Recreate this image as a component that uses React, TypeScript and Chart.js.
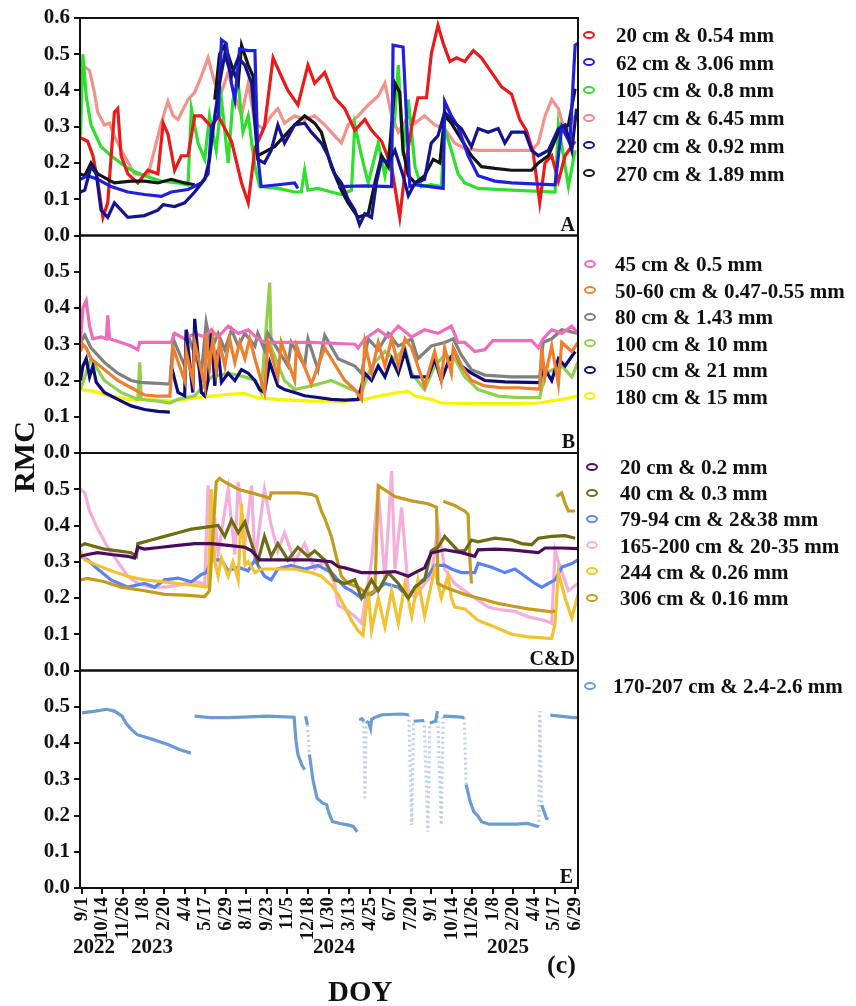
import { useEffect, useRef } from "react";
import { Chart, registerables } from "chart.js";

Chart.register(...registerables);

type Pt = [number, number | null];

// x = days since 2022-09-01
const tickDays = [0, 43, 86, 129, 172, 215, 258, 301, 344, 387, 430, 473, 516, 559, 602, 645, 688, 731, 774, 817, 860, 903, 946, 989, 1032];
const tickLabels = ["9/1", "10/14", "11/26", "1/8", "2/20", "4/4", "5/17", "6/29", "8/11", "9/23", "11/5", "12/18", "1/30", "3/13", "4/25", "6/7", "7/20", "9/1", "10/14", "11/26", "1/8", "2/20", "4/4", "5/17", "6/29"];
const yearLabels = ["2022", "2023", "2024", "2025"];
const yTicks = [0, 0.1, 0.2, 0.3, 0.4, 0.5, 0.6];

// ---------- Panel A ----------
const a20: Pt[] = [[-3,0.27],[12,0.26],[23,0.22],[33,0.15],[44,0.05],[54,0.09],[68,0.34],[75,0.35],[82,0.22],[96,0.17],[117,0.145],[138,0.18],[159,0.17],[170,0.31],[180,0.28],[194,0.18],[208,0.22],[222,0.22],[236,0.33],[250,0.33],[271,0.30],[285,0.33],[313,0.26],[334,0.145],[348,0.09],[362,0.24],[382,0.30],[400,0.49],[417,0.44],[431,0.40],[452,0.36],[473,0.47],[487,0.42],[508,0.45],[529,0.38],[550,0.35],[571,0.29],[592,0.32],[606,0.29],[627,0.26],[648,0.19],[665,0.05],[679,0.21],[690,0.30],[703,0.38],[721,0.38],[731,0.50],[745,0.58],[756,0.53],[770,0.48],[784,0.49],[801,0.48],[819,0.51],[836,0.49],[857,0.45],[878,0.41],[899,0.39],[916,0.32],[930,0.29],[944,0.23],[958,0.09],[969,0.20],[983,0.22],[997,0.15],[1011,0.22],[1032,0.26]];
const a62: Pt[] = [[-3,0.155],[12,0.165],[33,0.155],[61,0.135],[96,0.12],[131,0.113],[166,0.108],[187,0.12],[222,0.127],[250,0.145],[264,0.17],[271,0.30],[285,0.33],[292,0.54],[302,0.53],[313,0.42],[320,0.375],[330,0.515],[348,0.51],[362,0.51],[368,0.22],[375,0.135],[410,0.14],[445,0.145],[452,0.13],[460,null],[536,0.135],[592,0.137],[648,0.135],[651,0.525],[672,0.52],[679,0.33],[686,0.135],[697,0.14],[756,0.13],[759,0.37],[773,0.33],[787,0.30],[808,0.22],[829,0.165],[864,0.15],[899,0.145],[990,0.14],[1004,0.30],[1021,0.255],[1032,0.525],[1038,0.53]];
const a105: Pt[] = [[-3,0.275],[2,0.50],[9,0.385],[19,0.305],[40,0.245],[61,0.22],[96,0.185],[131,0.165],[166,0.15],[201,0.145],[222,0.14],[229,0.35],[243,0.255],[257,0.21],[267,0.33],[281,0.235],[292,0.375],[306,0.20],[316,0.375],[327,0.42],[337,0.285],[348,0.33],[362,0.19],[372,0.135],[410,0.13],[445,0.12],[459,0.12],[466,0.18],[473,0.125],[494,0.13],[522,0.12],[543,0.113],[564,0.125],[571,0.305],[585,0.22],[599,0.145],[620,0.255],[634,0.165],[655,0.33],[662,0.47],[672,0.22],[683,0.375],[697,0.19],[710,0.135],[731,0.14],[752,0.135],[759,0.295],[773,0.235],[787,0.17],[801,0.145],[829,0.13],[899,0.125],[990,0.12],[997,0.305],[1018,0.135],[1032,0.235]];
const a147: Pt[] = [[-3,0.375],[2,0.47],[16,0.455],[26,0.395],[33,0.34],[47,0.305],[58,0.31],[68,0.275],[82,0.235],[93,0.21],[110,0.17],[138,0.165],[166,0.31],[180,0.37],[191,0.33],[201,0.32],[222,0.375],[236,0.395],[250,0.44],[264,0.49],[278,0.42],[292,0.395],[306,0.45],[320,0.385],[334,0.33],[348,0.42],[362,0.31],[379,0.295],[396,0.33],[410,0.35],[424,0.31],[445,0.33],[466,0.32],[487,0.33],[508,0.305],[529,0.275],[543,0.255],[557,0.305],[578,0.33],[599,0.36],[620,0.385],[634,0.42],[648,0.33],[662,0.285],[683,0.33],[697,0.31],[717,0.33],[738,0.305],[759,0.295],[780,0.255],[801,0.24],[829,0.235],[899,0.235],[941,0.235],[955,0.255],[969,0.33],[983,0.375],[997,0.35],[1011,0.285],[1032,0.33]];
const a220: Pt[] = [[-3,0.12],[6,0.125],[19,0.19],[30,0.17],[40,0.07],[54,0.05],[68,0.09],[82,0.07],[96,0.05],[131,0.055],[159,0.07],[170,0.085],[194,0.08],[215,0.09],[236,0.12],[257,0.155],[267,0.21],[278,0.33],[288,0.42],[299,0.50],[313,0.44],[327,0.49],[341,0.47],[355,0.42],[368,0.21],[382,0.20],[396,0.235],[410,0.305],[424,0.255],[445,0.305],[466,0.31],[480,0.285],[501,0.255],[515,0.22],[529,0.17],[543,0.145],[557,0.10],[571,0.07],[581,0.03],[592,0.06],[606,0.05],[616,0.145],[627,0.21],[641,0.20],[655,0.235],[672,0.165],[683,0.11],[697,0.145],[717,0.155],[731,0.255],[745,0.275],[759,0.34],[780,0.31],[794,0.295],[815,0.245],[829,0.295],[850,0.285],[871,0.295],[885,0.255],[899,0.285],[927,0.285],[941,0.235],[955,0.22],[976,0.235],[997,0.295],[1011,0.305],[1025,0.235],[1035,0.35]];
const a270: Pt[] = [[-3,0.17],[6,0.165],[19,0.20],[33,0.17],[54,0.155],[68,0.145],[103,0.15],[131,0.15],[159,0.145],[187,0.155],[215,0.145],[236,0.14],[250,null],[278,0.375],[288,0.50],[299,0.525],[313,0.47],[327,0.42],[334,0.525],[348,0.47],[358,0.44],[368,0.22],[382,0.23],[403,0.245],[424,0.275],[445,0.305],[466,0.33],[487,0.31],[501,0.285],[522,0.19],[543,0.125],[557,0.09],[578,0.05],[599,0.06],[613,0.145],[627,0.22],[641,0.19],[655,0.42],[665,0.395],[672,0.235],[683,0.165],[697,0.145],[717,0.165],[735,0.21],[749,0.20],[759,0.33],[773,0.31],[794,0.265],[815,0.22],[836,0.19],[864,0.185],[899,0.18],[941,0.18],[955,0.20],[976,0.22],[997,0.285],[1018,0.305],[1032,0.405]];

// ---------- Panel B ----------
const b45: Pt[] = [[-3,0.305],[2,0.40],[9,0.42],[16,0.35],[23,0.315],[40,0.32],[51,0.315],[54,0.38],[58,0.315],[82,0.305],[103,0.295],[117,0.285],[121,0.305],[187,0.305],[194,0.33],[215,0.315],[236,0.33],[257,0.32],[271,0.34],[285,0.32],[306,0.35],[327,0.33],[348,0.34],[368,0.315],[382,0.305],[480,0.305],[571,0.30],[578,0.29],[592,0.315],[620,0.34],[641,0.32],[662,0.35],[690,0.32],[717,0.34],[745,0.33],[773,0.35],[787,0.305],[801,0.305],[822,0.28],[843,0.285],[860,0.31],[941,0.31],[955,0.29],[965,0.315],[983,0.34],[1004,0.33],[1025,0.35],[1038,0.33]];
const b50: Pt[] = [[-3,0.28],[2,0.30],[9,0.29],[19,0.26],[47,0.23],[75,0.20],[103,0.18],[131,0.16],[159,0.157],[184,0.157],[191,0.29],[215,0.20],[218,0.28],[232,0.20],[236,0.305],[257,0.185],[260,0.33],[267,0.24],[274,0.315],[281,0.23],[288,0.305],[299,0.24],[309,0.315],[320,0.25],[330,0.305],[341,0.26],[351,0.315],[362,0.26],[382,0.167],[389,0.305],[410,0.21],[417,0.305],[445,0.20],[449,0.295],[480,0.19],[508,0.29],[550,0.20],[571,0.175],[585,0.148],[592,0.305],[606,0.22],[620,0.305],[634,0.24],[648,0.315],[662,0.24],[676,0.315],[690,0.29],[717,0.185],[738,0.28],[752,0.20],[759,0.29],[773,0.22],[777,0.29],[794,0.24],[815,0.20],[843,0.185],[878,0.18],[913,0.18],[958,0.176],[962,0.29],[969,0.21],[983,0.295],[997,0.19],[1004,0.305],[1025,0.28],[1038,0.305]];
const b80: Pt[] = [[-3,0.305],[6,0.325],[19,0.29],[47,0.25],[75,0.22],[103,0.20],[121,0.195],[184,0.19],[191,0.315],[215,0.24],[222,0.325],[250,0.22],[260,0.36],[271,0.285],[285,0.33],[299,0.285],[313,0.34],[327,0.295],[341,0.33],[362,0.295],[368,0.33],[382,0.285],[389,0.33],[431,0.24],[438,0.305],[466,0.24],[473,0.315],[494,0.23],[508,0.325],[536,0.26],[571,0.24],[585,0.22],[599,0.315],[620,0.285],[641,0.33],[662,0.295],[690,0.315],[703,0.26],[731,0.295],[759,0.305],[777,0.315],[794,0.27],[815,0.23],[843,0.215],[899,0.21],[958,0.21],[965,0.305],[983,0.315],[1004,0.34],[1038,0.33]];
const b100: Pt[] = [[-3,0.175],[19,0.26],[47,0.20],[82,0.167],[117,0.148],[121,0.25],[124,0.148],[159,0.143],[184,0.138],[201,0.148],[236,0.158],[271,0.21],[306,0.22],[341,0.21],[362,0.20],[375,0.167],[393,0.47],[396,0.29],[424,0.20],[445,0.175],[480,0.185],[522,0.20],[564,0.175],[585,0.167],[606,0.24],[634,0.28],[655,0.26],[676,0.29],[690,0.22],[717,0.175],[738,0.24],[759,0.27],[780,0.26],[801,0.21],[829,0.175],[871,0.157],[913,0.153],[958,0.153],[969,0.22],[1004,0.24],[1025,0.21],[1038,0.25]];
const b150: Pt[] = [[-3,0.20],[2,0.24],[9,0.26],[16,0.21],[23,0.24],[30,0.195],[47,0.167],[75,0.148],[103,0.13],[131,0.12],[159,0.115],[184,0.113],[186,null],[187,0.24],[201,0.167],[215,0.158],[218,0.34],[232,0.167],[236,0.37],[250,0.167],[257,0.158],[264,0.20],[271,0.33],[278,0.185],[285,0.285],[292,0.195],[306,0.22],[320,0.20],[334,0.23],[348,0.22],[362,0.20],[372,0.175],[382,0.167],[393,0.25],[410,0.185],[424,0.175],[445,0.167],[466,0.158],[494,0.153],[522,0.148],[550,0.146],[578,0.148],[592,0.22],[606,0.20],[620,0.24],[634,0.21],[648,0.26],[662,0.22],[676,0.28],[690,0.21],[724,0.21],[738,0.26],[752,0.20],[766,0.25],[780,0.28],[794,0.24],[815,0.22],[843,0.20],[885,0.196],[958,0.194],[965,0.24],[983,0.20],[997,0.26],[1011,0.24],[1032,0.28]];
const b180: Pt[] = [[-3,0.175],[26,0.17],[61,0.157],[96,0.148],[131,0.148],[187,0.143],[236,0.152],[271,0.157],[306,0.162],[341,0.164],[368,0.152],[410,0.148],[480,0.143],[550,0.143],[592,0.148],[620,0.157],[662,0.167],[683,0.17],[697,0.157],[731,0.148],[752,0.138],[829,0.136],[899,0.136],[955,0.138],[1004,0.148],[1038,0.157]];

// ---------- Panel C&D ----------
const c20: Pt[] = [[-3,0.315],[12,0.32],[33,0.325],[61,0.32],[96,0.315],[110,0.31],[117,0.34],[131,0.335],[166,0.34],[201,0.345],[236,0.35],[271,0.35],[306,0.345],[341,0.34],[355,0.33],[372,0.305],[410,0.305],[480,0.305],[522,0.30],[536,0.287],[550,0.283],[585,0.27],[620,0.27],[655,0.273],[683,0.26],[697,0.27],[717,0.283],[731,0.324],[759,0.333],[794,0.325],[822,0.315],[829,0.333],[864,0.335],[899,0.333],[934,0.328],[955,0.325],[969,0.338],[1004,0.338],[1038,0.336]];
const c40: Pt[] = [[-3,0.343],[6,0.35],[19,0.345],[47,0.335],[75,0.33],[103,0.325],[114,0.315],[117,0.35],[145,0.36],[173,0.37],[201,0.38],[229,0.39],[257,0.395],[285,0.40],[299,0.37],[313,0.415],[327,0.38],[341,0.41],[355,0.35],[368,0.30],[382,0.37],[396,0.315],[410,0.35],[431,0.305],[452,0.34],[473,0.315],[487,0.33],[508,0.305],[529,0.25],[550,0.24],[571,0.25],[585,0.20],[606,0.25],[620,0.22],[641,0.27],[662,0.24],[683,0.20],[697,0.23],[717,0.25],[731,0.33],[745,0.34],[759,0.37],[773,0.35],[787,0.33],[801,0.33],[815,0.36],[829,0.355],[864,0.365],[899,0.36],[920,0.35],[941,0.347],[955,0.365],[983,0.37],[1011,0.372],[1032,0.365]];
const c79: Pt[] = [[-3,0.315],[12,0.305],[33,0.28],[61,0.25],[96,0.23],[131,0.24],[152,0.23],[173,0.25],[201,0.255],[229,0.245],[250,0.265],[260,0.27],[271,0.305],[292,0.305],[306,0.275],[327,0.285],[348,0.275],[362,0.305],[382,0.26],[396,0.25],[410,0.28],[438,0.29],[466,0.28],[494,0.29],[522,0.27],[536,0.25],[550,0.23],[564,0.22],[585,0.20],[606,0.21],[634,0.24],[662,0.23],[683,0.20],[703,0.24],[724,0.26],[738,0.29],[759,0.29],[773,0.28],[794,0.27],[822,0.27],[829,0.296],[857,0.285],[885,0.27],[906,0.28],[927,0.26],[948,0.24],[962,0.23],[976,0.24],[990,0.25],[1004,0.285],[1025,0.295],[1038,0.305]];
const c165: Pt[] = [[-3,0.50],[6,0.49],[16,0.44],[33,0.39],[54,0.34],[75,0.30],[96,0.26],[117,0.24],[145,0.23],[173,0.23],[201,0.235],[236,0.245],[257,0.24],[264,0.51],[271,0.33],[278,0.42],[285,0.32],[306,0.50],[320,0.32],[327,0.52],[341,0.35],[355,0.51],[362,0.30],[382,0.50],[396,0.40],[410,0.33],[424,0.38],[445,0.30],[466,0.35],[487,0.28],[508,0.30],[529,0.24],[536,0.18],[550,0.17],[571,0.15],[585,0.13],[606,0.30],[620,0.50],[634,0.25],[648,0.55],[655,0.28],[669,0.45],[683,0.22],[697,0.20],[717,0.24],[731,0.26],[745,0.40],[759,0.28],[780,0.24],[801,0.22],[822,0.20],[850,0.175],[878,0.167],[906,0.163],[934,0.148],[969,0.138],[983,0.13],[990,0.33],[997,0.30],[1018,0.22],[1038,0.24]];
const c244: Pt[] = [[-3,0.33],[6,0.305],[33,0.29],[61,0.275],[96,0.26],[131,0.25],[166,0.245],[201,0.24],[236,0.235],[264,0.23],[271,0.50],[278,0.30],[285,0.26],[292,0.31],[306,0.26],[316,0.30],[327,0.25],[334,0.46],[341,0.29],[348,0.30],[362,0.27],[375,0.28],[410,0.28],[445,0.28],[480,0.27],[501,0.26],[522,0.235],[536,0.21],[550,0.175],[564,0.138],[578,0.11],[588,0.097],[599,0.22],[606,0.11],[620,0.20],[634,0.12],[648,0.22],[662,0.13],[676,0.24],[690,0.15],[703,0.25],[717,0.15],[738,0.28],[752,0.20],[766,0.26],[773,0.20],[780,0.175],[801,0.17],[829,0.138],[864,0.12],[899,0.10],[934,0.093],[983,0.088],[990,0.13],[997,0.27],[1011,0.20],[1025,0.145],[1038,0.21]];
const c306: Pt[] = [[-3,0.25],[12,0.254],[47,0.245],[82,0.23],[131,0.22],[173,0.21],[215,0.208],[257,0.204],[267,0.22],[281,0.52],[288,0.53],[299,0.52],[327,0.50],[355,0.49],[382,0.48],[393,0.475],[396,0.49],[424,0.49],[452,0.49],[480,0.486],[491,0.48],[501,0.44],[508,0.42],[522,0.37],[532,0.315],[543,0.26],[557,0.24],[578,0.23],[599,0.21],[613,0.22],[620,0.51],[655,0.48],[690,0.468],[724,0.46],[742,0.45],[745,0.24],[759,0.23],[780,0.22],[801,0.21],[815,0.205],[843,0.195],[871,0.185],[899,0.178],[934,0.17],[983,0.162],[990,0.165],[992,null],[993,0.48],[1004,0.49],[1011,0.46],[1018,0.44],[1032,0.44]];
const c306b: Pt[] = [[756,0.467],[780,0.455],[801,0.44],[808,0.43],[812,0.30],[815,0.24]];

// ---------- Panel E ----------
const e170: Pt[] = [[0,0.483],[28,0.488],[52,0.493],[68,0.488],[84,0.474],[92,0.455],[104,0.437],[116,0.423],[148,0.41],[180,0.396],[204,0.382],[228,0.372],[232,null],[236,0.474],[268,0.47],[308,0.47],[388,0.474],[444,0.471],[448,0.405],[452,0.368],[460,0.34],[466,0.326],[467,null],[468,0.474],[472,0.45],[476,0.368],[484,0.294],[492,0.248],[504,0.234],[512,0.23],[516,0.21],[524,0.183],[540,0.178],[556,0.174],[568,0.17],[576,0.155],[578,null],[580,0.465],[586,0.467],[590,0.46],[592,0.243],[595,0.46],[600,0.456],[604,0.44],[606,0.465],[612,0.47],[628,0.478],[668,0.48],[684,0.478],[690,0.174],[694,0.46],[716,0.462],[724,0.155],[728,0.455],[740,0.46],[744,0.488],[752,0.174],[756,0.474],[788,0.472],[800,0.47],[804,0.285],[812,0.24],[820,0.21],[828,0.2],[836,0.183],[852,0.176],[908,0.176],[932,0.178],[956,0.169],[958,0.488],[962,0.229],[972,0.192],[976,0.19],[977,null],[980,0.477],[1028,0.47],[1038,0.47]];

const FONT = '"Liberation Serif", "Times New Roman", serif';

type Series = { label: string; color: string; data: Pt[]; axis: string; order: number; width?: number; fadeDrops?: boolean };

const series: Series[] = [
  { label: "220 cm & 0.92 mm", color: "#14148e", data: a220, axis: "yA", order: 0 },
  { label: "62 cm & 3.06 mm", color: "#1f1fe0", data: a62, axis: "yA", order: 1 },
  { label: "270 cm & 1.89 mm", color: "#151515", data: a270, axis: "yA", order: 2 },
  { label: "20 cm & 0.54 mm", color: "#ea1a1a", data: a20, axis: "yA", order: 3 },
  { label: "105 cm & 0.8 mm", color: "#2ee02e", data: a105, axis: "yA", order: 4 },
  { label: "147 cm & 6.45 mm", color: "rgba(238,128,118,0.85)", data: a147, axis: "yA", order: 5 },

  { label: "50-60 cm & 0.47-0.55 mm", color: "#ee7f2e", data: b50, axis: "yB", order: 6 },
  { label: "150 cm & 21 mm", color: "#0c0c7a", data: b150, axis: "yB", order: 7 },
  { label: "45 cm & 0.5 mm", color: "#ef6cbb", data: b45, axis: "yB", order: 8 },
  { label: "80 cm & 1.43 mm", color: "#808080", data: b80, axis: "yB", order: 9 },
  { label: "100 cm & 10 mm", color: "#90d04e", data: b100, axis: "yB", order: 10 },
  { label: "180 cm & 15 mm", color: "#f5f500", data: b180, axis: "yB", order: 11 },

  { label: "20 cm & 0.2 mm", color: "#4c0c5e", data: c20, axis: "yC", order: 12 },
  { label: "40 cm & 0.3 mm", color: "#6e6c14", data: c40, axis: "yC", order: 13 },
  { label: "306 cm & 0.16 mm", color: "#c49b1e", data: c306, axis: "yC", order: 14 },
  { label: "306b", color: "#c49b1e", data: c306b, axis: "yC", order: 14 },
  { label: "244 cm & 0.26 mm", color: "#f2c233", data: c244, axis: "yC", order: 15 },
  { label: "79-94 cm & 2&38 mm", color: "#5b82f0", data: c79, axis: "yC", order: 16 },
  { label: "165-200 cm & 20-35 mm", color: "rgba(244,165,214,0.9)", data: c165, axis: "yC", order: 17 },

  { label: "170-207 cm & 2.4-2.6 mm", color: "#6b9bd2", data: e170, axis: "yE", order: 18, fadeDrops: true },
];

const colorOf = (label: string) => series.find((s) => s.label === label)!.color;

const legends: { items: string[]; top: number; step: number; markX: number; textX: number }[] = [
  { items: ["20 cm & 0.54 mm", "62 cm & 3.06 mm", "105 cm & 0.8 mm", "147 cm & 6.45 mm", "220 cm & 0.92 mm", "270 cm & 1.89 mm"], top: 35, step: 27.7, markX: 589, textX: 616 },
  { items: ["45 cm & 0.5 mm", "50-60 cm & 0.47-0.55 mm", "80 cm & 1.43 mm", "100 cm & 10 mm", "150 cm & 21 mm", "180 cm & 15 mm"], top: 264, step: 26.5, markX: 590, textX: 615 },
  { items: ["20 cm & 0.2 mm", "40 cm & 0.3 mm", "79-94 cm & 2&38 mm", "165-200 cm & 20-35 mm", "244 cm & 0.26 mm", "306 cm & 0.16 mm"], top: 467, step: 26.2, markX: 592, textX: 620 },
  { items: ["170-207 cm & 2.4-2.6 mm"], top: 686, step: 26, markX: 590, textX: 613 },
];

const legendMarkerColor: Record<string, string> = {
  "147 cm & 6.45 mm": "#ee8a82",
  "165-200 cm & 20-35 mm": "#f4b0da",
};

const panelFrame = {
  id: "panelFrame",
  afterDraw(chart: any) {
    const { ctx, chartArea } = chart;
    ctx.save();
    ctx.strokeStyle = "#111";
    ctx.lineWidth = 2;
    for (const id of ["yA", "yB", "yC", "yE"]) {
      const s = chart.scales[id];
      ctx.strokeRect(chartArea.left, s.top, chartArea.right - chartArea.left, s.bottom - s.top);
    }
    ctx.restore();
  },
};

function yScale(weight: number, showTop: boolean) {
  return {
    type: "linear",
    position: "left",
    stack: "panels",
    stackWeight: 1,
    weight,
    min: 0,
    max: 0.6,
    afterBuildTicks: (ax: any) => {
      ax.ticks = yTicks.map((v) => ({ value: v }));
    },
    afterFit: (s: any) => {
      s.width = 80;
    },
    ticks: {
      autoSkip: false,
      font: { family: FONT, size: 21, weight: "bold" },
      color: "#111",
      padding: 4,
      callback: (v: number) => (!showTop && v > 0.55 ? "" : v.toFixed(1)),
    },
    grid: { drawOnChartArea: false, drawTicks: true, tickLength: 6, color: "#111", lineWidth: 2 },
    border: { display: true, color: "#111", width: 2 },
  };
}

export default function App() {
  const ref = useRef<HTMLCanvasElement>(null);

  useEffect(() => {
    const canvas = ref.current;
    if (!canvas) return;
    const chart = new Chart(canvas, {
      type: "line",
      data: {
        datasets: series.map((s) => ({
          label: s.label,
          data: s.data.map(([x, y]) => ({ x, y })),
          borderColor: s.color,
          backgroundColor: s.color,
          borderWidth: s.width ?? 3.2,
          pointRadius: 0,
          tension: 0,
          spanGaps: false,
          fill: false,
          yAxisID: s.axis,
          xAxisID: "x",
          order: s.order,
          segment: s.fadeDrops
            ? {
                borderColor: (ctx: any) => {
                  const dx = Math.abs(ctx.p1.parsed.x - ctx.p0.parsed.x);
                  const dy = Math.abs(ctx.p1.parsed.y - ctx.p0.parsed.y);
                  return dx <= 8 && dy > 0.08 ? "rgba(107,155,210,0.45)" : undefined;
                },
                borderDash: (ctx: any) => {
                  const dx = Math.abs(ctx.p1.parsed.x - ctx.p0.parsed.x);
                  const dy = Math.abs(ctx.p1.parsed.y - ctx.p0.parsed.y);
                  return dx <= 8 && dy > 0.08 ? [2, 3] : undefined;
                },
              }
            : undefined,
        })),
      },
      options: {
        responsive: false,
        animation: false,
        devicePixelRatio: 1,
        events: [],
        layout: { padding: { left: 0, right: 278, top: 18, bottom: 0 } },
        plugins: { legend: { display: false }, tooltip: { enabled: false } },
        scales: {
          x: {
            type: "linear",
            position: "bottom",
            min: -4,
            max: 1038,
            afterBuildTicks: (ax: any) => {
              ax.ticks = tickDays.map((v) => ({ value: v }));
            },
            afterFit: (s: any) => {
              s.height = 118;
            },
            ticks: {
              autoSkip: false,
              minRotation: 90,
              maxRotation: 90,
              padding: 3,
              font: { family: FONT, size: 19, weight: "bold" },
              color: "#111",
              callback: (_v: number, i: number) => tickLabels[i],
            },
            grid: { drawOnChartArea: false, drawTicks: true, tickLength: 6, color: "#111", lineWidth: 2 },
            border: { display: true, color: "#111", width: 2 },
          },
          yE: yScale(1, false),
          yC: yScale(2, false),
          yB: yScale(3, false),
          yA: yScale(4, true),
        } as any,
      },
      plugins: [panelFrame],
    } as any);
    return () => chart.destroy();
  }, []);

  const bold = { fontFamily: FONT, fontWeight: "bold" as const, color: "#111", position: "absolute" as const, whiteSpace: "nowrap" as const };

  return (
    <div style={{ position: "absolute", left: 0, top: 0, width: 856, height: 1006, background: "#fff", overflow: "hidden" }}>
      <canvas ref={ref} width={856} height={1006} style={{ position: "absolute", left: 0, top: 0, width: 856, height: 1006 }} />

      {legends.map((g, gi) =>
        g.items.map((label, i) => {
          const cy = g.top + i * g.step;
          const c = legendMarkerColor[label] ?? colorOf(label);
          return (
            <div key={`${gi}-${i}`}>
              <span
                style={{
                  position: "absolute",
                  left: g.markX - 6.5,
                  top: cy - 4.5,
                  width: 8,
                  height: 4,
                  border: `2.5px solid ${c}`,
                  borderRadius: "50%",
                }}
              />
              <div style={{ ...bold, left: g.textX, top: cy - 12, fontSize: 21, lineHeight: "24px" }}>{label}</div>
            </div>
          );
        })
      )}

      <div style={{ ...bold, right: 281, top: 214, fontSize: 20, lineHeight: "20px" }}>A</div>
      <div style={{ ...bold, right: 281, top: 431, fontSize: 20, lineHeight: "20px" }}>B</div>
      <div style={{ ...bold, right: 281, top: 648, fontSize: 20, lineHeight: "20px" }}>C&amp;D</div>
      <div style={{ ...bold, right: 283, top: 866, fontSize: 20, lineHeight: "20px" }}>E</div>

      {yearLabels.map((y, i) => (
        <div key={y} style={{ ...bold, left: [94, 152, 334, 508][i] - 21, top: 934, fontSize: 21, lineHeight: "24px" }}>{y}</div>
      ))}

      <div style={{ ...bold, left: 328, top: 975, fontSize: 29, lineHeight: "32px" }}>DOY</div>
      <div style={{ ...bold, left: 547, top: 950, fontSize: 26, lineHeight: "30px" }}>(c)</div>
      <div style={{ ...bold, left: 24 - 60, top: 457 - 17, width: 120, textAlign: "center", fontSize: 30, lineHeight: "34px", transform: "rotate(-90deg)" }}>RMC</div>
    </div>
  );
}
